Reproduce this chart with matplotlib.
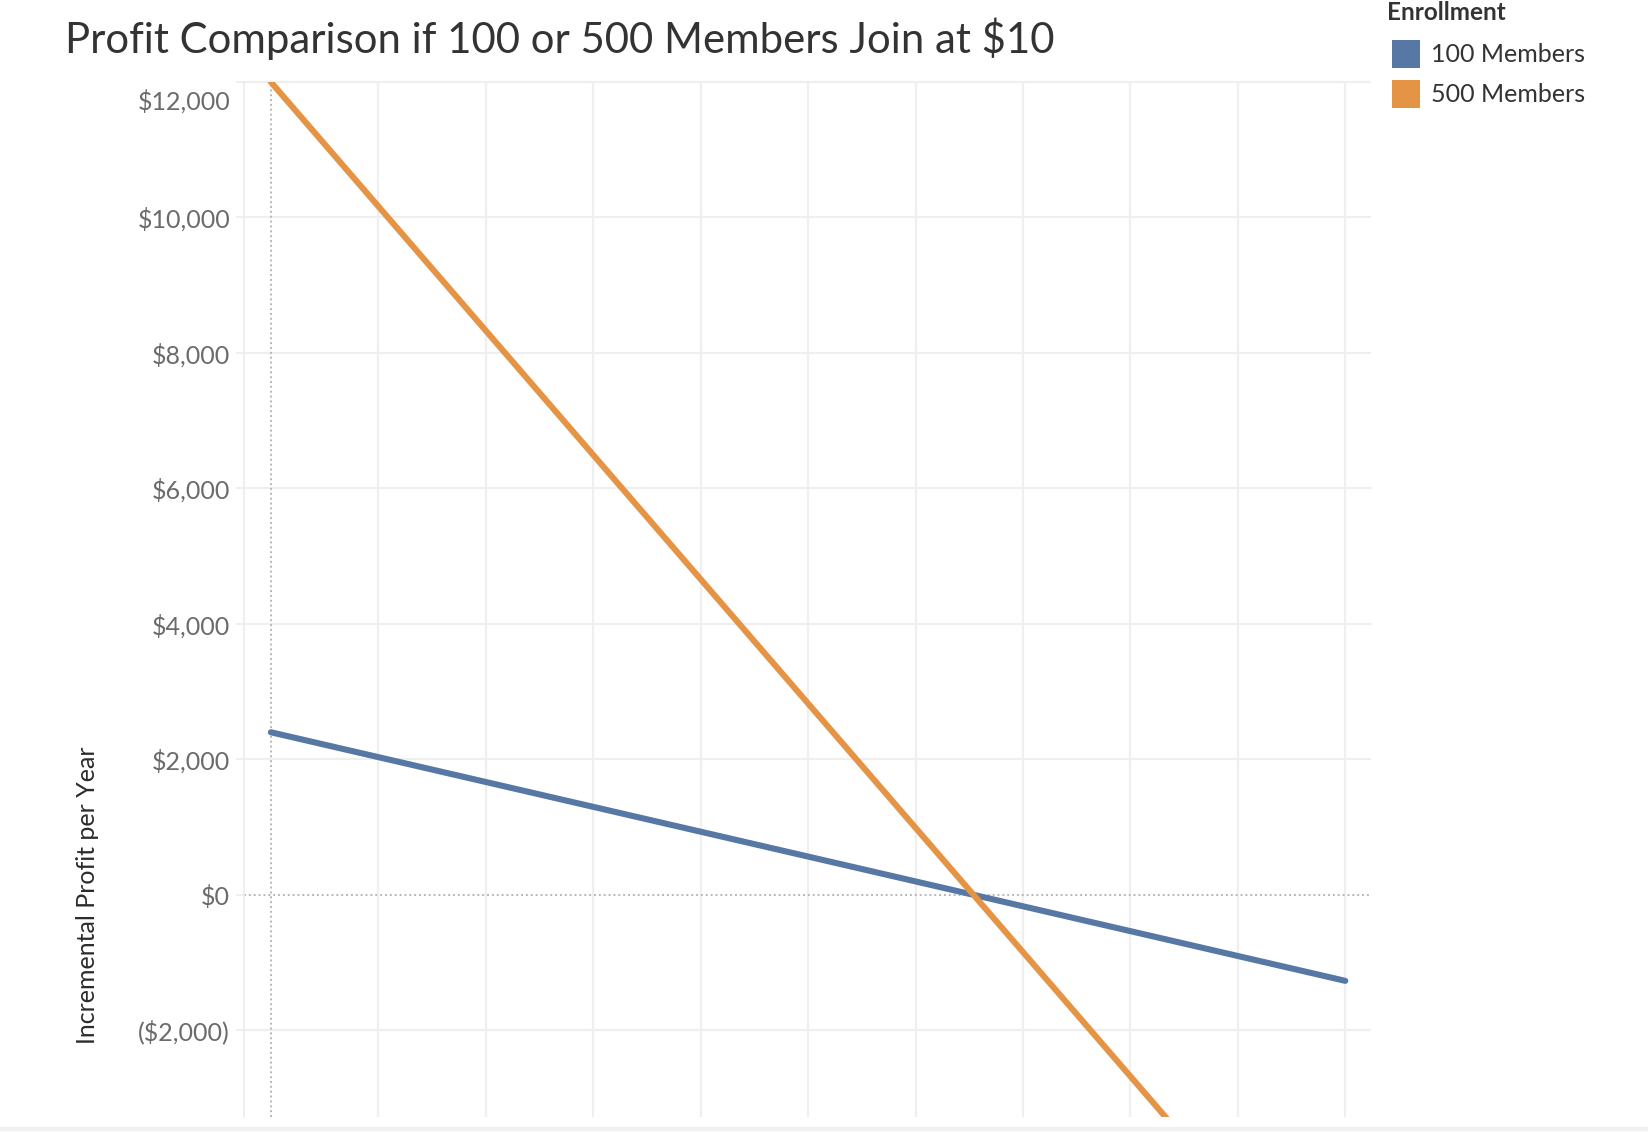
import matplotlib
matplotlib.use("Agg")
import matplotlib.pyplot as plt
from matplotlib.patches import Rectangle
from matplotlib.lines import Line2D
from matplotlib.transforms import ScaledTranslation

# data
x_steps = [0, 10]
series_names = ["100 Members", "500 Members"]
profit_100 = [2400, -1270]
profit_500 = [12000, -6350]
series_colors = ["#5778a4", "#e49444"]
y_ticks = [-2000, 0, 2000, 4000, 6000, 8000, 10000, 12000]
x_grid = [1, 2, 3, 4, 5, 6, 7, 8, 9, 10]

TITLE = "Profit Comparison if 100 or 500 Members Join at $10"
Y_LABEL = "Incremental Profit per Year"
LEGEND_TITLE = "Enrollment"

W, H = 1648, 1132
DPI = 100

plt.rcParams['font.family'] = ['Lato', 'DejaVu Sans']


def money(v):
    if v < 0:
        return f"(${abs(v):,.0f})"
    return f"${v:,.0f}"


def main():
    fig = plt.figure(figsize=(W / DPI, H / DPI), dpi=DPI)
    left, right, top, bottom = 244, 1370, 82, 1117
    ax = fig.add_axes([left / W, 1 - bottom / H, (right - left) / W, (bottom - top) / H])

    ax.set_xlim(-0.25, 10.23)
    ax.set_ylim(-3280, 12000)

    grid_c = "#efefef"
    for gx in x_grid:
        ax.axvline(gx, color=grid_c, lw=1.6, zorder=0)
    for gy in y_ticks:
        if gy != 0:
            ax.axhline(gy, color=grid_c, lw=1.6, zorder=0, clip_on=False)

    # zero lines
    ax.axhline(0, color="#b8b8b8", lw=1.4, ls=(0, (1, 1.5)), zorder=1)
    ax.axvline(0, color="#b8b8b8", lw=1.4, ls=(0, (1, 1.5)), zorder=1)

    series = [profit_100, profit_500]
    for name, vals, col in zip(series_names, series, series_colors):
        ax.plot(x_steps, vals, color=col, lw=4.4, solid_capstyle='round', zorder=3, label=name)

    for s in ["top", "right", "bottom"]:
        ax.spines[s].set_visible(False)
    ax.spines["left"].set_color("#ececec")
    ax.spines["left"].set_linewidth(1.2)

    ax.set_xticks([])
    ax.set_yticks(y_ticks)
    ax.set_yticklabels([money(v) for v in y_ticks])
    ax.tick_params(axis='y', length=6, width=1.2, color="#ececec", pad=4,
                   labelsize=18, labelcolor="#6b6b6b")
    # tableau pushes the top label inside the pane
    top_lab = ax.get_yticklabels()[-1]
    top_lab.set_transform(top_lab.get_transform() + ScaledTranslation(0, -0.17, fig.dpi_scale_trans))

    fig.text(65 / W, 1 - 39 / H, TITLE, fontsize=30.2, fontweight='normal',
             color="#333333", ha='left', va='center')

    fig.text(88 / W, 1 - 895 / H, Y_LABEL, fontsize=18, fontweight='normal',
             color="#2b2b2b", rotation=90, ha='center', va='center')

    # legend
    fig.text(1387 / W, 1 - 13 / H, LEGEND_TITLE, fontsize=17.5, fontweight='bold',
             color="#333333", ha='left', va='center')
    for i, (name, col) in enumerate(zip(series_names, series_colors)):
        yc = 54 + i * 40
        fig.add_artist(Rectangle(((1392) / W, 1 - (yc + 14) / H), 28 / W, 28 / H,
                                 transform=fig.transFigure, facecolor=col, edgecolor='none'))
        fig.text(1431 / W, 1 - yc / H, name, fontsize=18, color="#333333",
                 ha='left', va='center')

    # bottom border strip
    fig.add_artist(Line2D([0, 1], [1 - 1129 / H, 1 - 1129 / H], transform=fig.transFigure,
                          color="#f0f0f0", lw=3))

    fig.savefig("out.png", dpi=DPI)


if __name__ == '__main__':
    main()
